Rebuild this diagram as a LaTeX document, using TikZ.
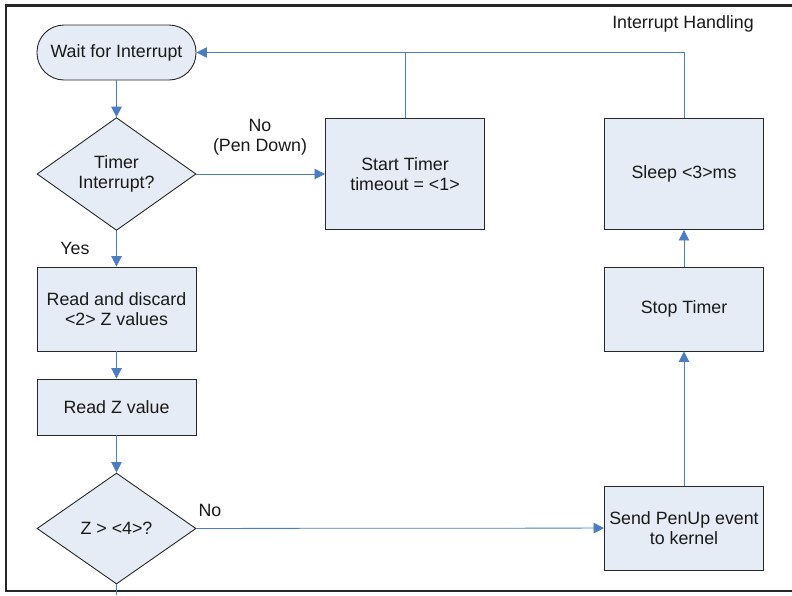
\documentclass[tikz,border=0pt]{standalone}
\usepackage{fontspec}
\setmainfont{Liberation Sans}
\usepackage{xcolor}
\usepackage{tikz}
\usetikzlibrary{arrows.meta, positioning, shapes.geometric}

\definecolor{boxfill}{RGB}{230,236,246}
\definecolor{flowblue}{RGB}{74,126,196}
\definecolor{boxline}{RGB}{40,40,40}

\tikzset{
  base/.style={draw=boxline, fill=boxfill, line width=0.9pt, text=black!90,
    align=center, inner sep=0pt, font=\fontsize{17.8}{20}\selectfont},
  procbox/.style={base, rectangle, minimum width=159pt, minimum height=84pt},
  termbox/.style={base, rectangle, rounded corners=27pt, minimum width=159pt, minimum height=55pt},
  decbox/.style={base, diamond, minimum width=159pt, minimum height=111pt},
  flow/.style={draw=flowblue, line width=0.8pt, -{Triangle[length=10.5pt,width=10.5pt]}},
  flowline/.style={draw=flowblue, line width=0.8pt},
  lbl/.style={font=\fontsize{17.8}{20}\selectfont, text=black!90, align=center, inner sep=0pt}
}

\begin{document}
\begin{tikzpicture}[x=1pt, y=-1pt]
  \useasboundingbox (0,0) rectangle (792,595);
  % outer frame, cut off on the right
  \draw[line width=2.4pt, black!85] (792,5.5) -- (6,5.5) -- (6,591) -- (792,591);
  \node[lbl] (title) at (683,24) {Interrupt Handling};

  % left column
  \node[termbox] (wait) at (116.5,52.5) {Wait for Interrupt};
  \node[decbox] (timerq) at (116.5,174) {Timer\\Interrupt?};
  \node[procbox] (discard) at (116.5,309) {Read and discard\\<2> Z values};
  \node[procbox, minimum height=56pt] (readz) at (116.5,407) {Read Z value};
  \node[decbox] (zq) at (116.5,528.5) {Z > <4>?};

  % middle and right column
  \node[procbox, minimum height=111pt] (start) at (405,174) {Start Timer\\timeout = <1>};
  \node[procbox, minimum height=111pt] (sleep) at (684,174) {Sleep <3>ms};
  \node[procbox] (stop) at (684,309) {Stop Timer};
  \node[procbox] (penup) at (684,528) {Send PenUp event\\to kernel};
  \coordinate (exit) at (116.5,595);

  % connectors
  \draw[flow] (wait) -- (timerq);
  \draw[flow] (timerq) -- (start);
  \draw[flow] (timerq) -- (discard);
  \draw[flow] (discard) -- (readz);
  \draw[flow] (readz) -- (zq);
  \draw[flow] (zq) -- (penup);
  \draw[flowline] (zq) -- (exit);
  \draw[flow] (penup) -- (stop);
  \draw[flow] (stop) -- (sleep);
  \draw[flow] (start.north) |- (wait.east);
  \draw[flowline] (sleep.north) |- (start.north |- wait.east);

  % branch labels
  \node[lbl] (nopen) at (260,137) {No\\(Pen Down)};
  \node[lbl] (yes) at (75,248) {Yes};
  \node[lbl] (noz) at (210,510) {No};
\end{tikzpicture}
\end{document}
